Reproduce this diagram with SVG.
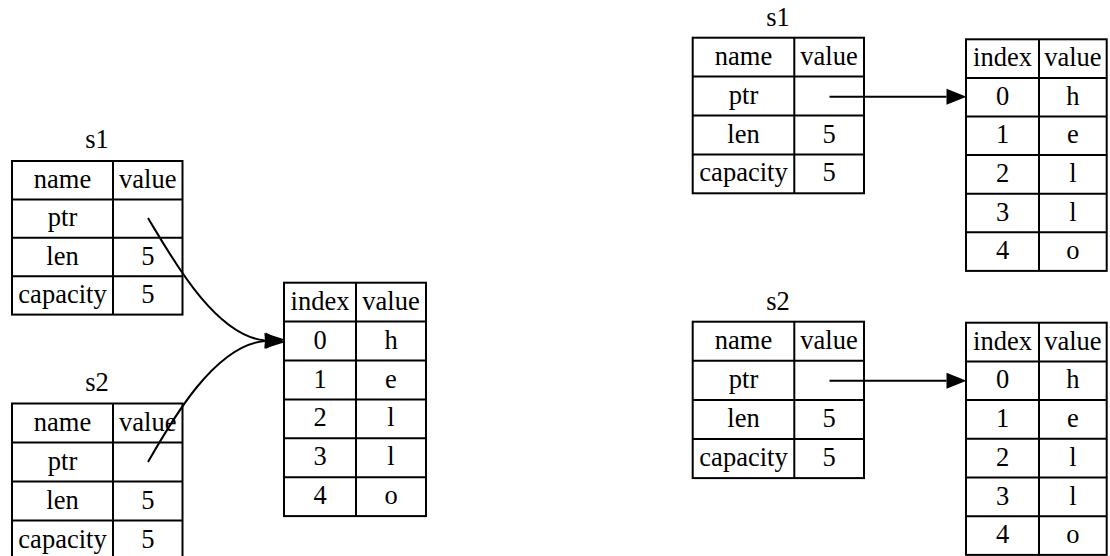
<svg xmlns="http://www.w3.org/2000/svg" width="1110" height="556" viewBox="0 0 1110 556">
  <style>
    .cell { fill: none; stroke: #000; stroke-width: 2; }
    .t { font-family: "Liberation Serif", "Times New Roman", serif; font-size: 26.5px; fill: #000; text-anchor: middle; }
    .edge { fill: none; stroke: #000; stroke-width: 2; }
  </style>
  <defs>
    <marker id="arrow" markerUnits="userSpaceOnUse" markerWidth="21" markerHeight="17" refX="0" refY="8" orient="auto" overflow="visible">
      <path d="M0,0 L20,8 L0,16 Z" fill="#000"/>
    </marker>
  </defs>
  <rect width="1110" height="556" fill="#fff"/>

  <!-- Left: s1 struct -->
  <g id="left-s1">
    <text class="t" x="97" y="148">s1</text>
    <rect class="cell" x="12" y="161" width="170.5" height="153.6"/>
    <path class="cell" d="M113,161 V314.6 M12,199.4 H182.5 M12,237.8 H182.5 M12,276.2 H182.5"/>
    <text class="t" x="62.5" y="187.7">name</text><text class="t" x="147.8" y="187.7">value</text>
    <text class="t" x="62.5" y="226.1">ptr</text>
    <text class="t" x="62.5" y="264.5">len</text><text class="t" x="147.8" y="264.5">5</text>
    <text class="t" x="62.5" y="302.9">capacity</text><text class="t" x="147.8" y="302.9">5</text>
  </g>

  <!-- Left: s2 struct -->
  <g id="left-s2">
    <text class="t" x="97" y="391">s2</text>
    <rect class="cell" x="12" y="403.5" width="170.5" height="156"/>
    <path class="cell" d="M113,403.5 V559.5 M12,442.5 H182.5 M12,481.5 H182.5 M12,520.5 H182.5"/>
    <text class="t" x="62.5" y="430.5">name</text><text class="t" x="147.8" y="430.5">value</text>
    <text class="t" x="62.5" y="469.5">ptr</text>
    <text class="t" x="62.5" y="508.5">len</text><text class="t" x="147.8" y="508.5">5</text>
    <text class="t" x="62.5" y="547.5">capacity</text><text class="t" x="147.8" y="547.5">5</text>
  </g>

  <!-- Left: shared heap buffer -->
  <g id="left-heap">
    <rect class="cell" x="284" y="282.7" width="142" height="233.4"/>
    <path class="cell" d="M356,282.7 V516.1 M284,321.6 H426 M284,360.5 H426 M284,399.4 H426 M284,438.3 H426 M284,477.2 H426"/>
    <text class="t" x="320" y="309.7">index</text><text class="t" x="391" y="309.7">value</text>
    <text class="t" x="320" y="348.6">0</text><text class="t" x="391" y="348.6">h</text>
    <text class="t" x="320" y="387.5">1</text><text class="t" x="391" y="387.5">e</text>
    <text class="t" x="320" y="426.4">2</text><text class="t" x="391" y="426.4">l</text>
    <text class="t" x="320" y="465.3">3</text><text class="t" x="391" y="465.3">l</text>
    <text class="t" x="320" y="504.2">4</text><text class="t" x="391" y="504.2">o</text>
  </g>

  <!-- Right: s1 struct -->
  <g id="right-s1">
    <text class="t" x="778" y="26">s1</text>
    <rect class="cell" x="692.7" y="37.7" width="171.3" height="155.6"/>
    <path class="cell" d="M794.3,37.7 V193.3 M692.7,76.6 H864 M692.7,115.5 H864 M692.7,154.4 H864"/>
    <text class="t" x="743.5" y="64.7">name</text><text class="t" x="829" y="64.7">value</text>
    <text class="t" x="743.5" y="103.6">ptr</text>
    <text class="t" x="743.5" y="142.5">len</text><text class="t" x="829" y="142.5">5</text>
    <text class="t" x="743.5" y="181.4">capacity</text><text class="t" x="829" y="181.4">5</text>
  </g>

  <!-- Right: s1 heap buffer -->
  <g id="right-heap1">
    <rect class="cell" x="966" y="39.3" width="140.7" height="231.6"/>
    <path class="cell" d="M1039,39.3 V270.9 M966,77.9 H1106.7 M966,116.5 H1106.7 M966,155.1 H1106.7 M966,193.7 H1106.7 M966,232.3 H1106.7"/>
    <text class="t" x="1002.5" y="66.1">index</text><text class="t" x="1072.9" y="66.1">value</text>
    <text class="t" x="1002.5" y="104.7">0</text><text class="t" x="1072.9" y="104.7">h</text>
    <text class="t" x="1002.5" y="143.3">1</text><text class="t" x="1072.9" y="143.3">e</text>
    <text class="t" x="1002.5" y="181.9">2</text><text class="t" x="1072.9" y="181.9">l</text>
    <text class="t" x="1002.5" y="220.5">3</text><text class="t" x="1072.9" y="220.5">l</text>
    <text class="t" x="1002.5" y="259.1">4</text><text class="t" x="1072.9" y="259.1">o</text>
  </g>

  <!-- Right: s2 struct -->
  <g id="right-s2">
    <text class="t" x="778" y="310">s2</text>
    <rect class="cell" x="692.7" y="321.7" width="171.3" height="156.4"/>
    <path class="cell" d="M794.3,321.7 V478.1 M692.7,360.8 H864 M692.7,399.9 H864 M692.7,439 H864"/>
    <text class="t" x="743.5" y="348.8">name</text><text class="t" x="829" y="348.8">value</text>
    <text class="t" x="743.5" y="387.9">ptr</text>
    <text class="t" x="743.5" y="427">len</text><text class="t" x="829" y="427">5</text>
    <text class="t" x="743.5" y="466.1">capacity</text><text class="t" x="829" y="466.1">5</text>
  </g>

  <!-- Right: s2 heap buffer -->
  <g id="right-heap2">
    <rect class="cell" x="966" y="322.7" width="140.7" height="232.2"/>
    <path class="cell" d="M1039,322.7 V554.9 M966,361.4 H1106.7 M966,400.1 H1106.7 M966,438.8 H1106.7 M966,477.5 H1106.7 M966,516.2 H1106.7"/>
    <text class="t" x="1002.5" y="349.7">index</text><text class="t" x="1072.9" y="349.7">value</text>
    <text class="t" x="1002.5" y="388.4">0</text><text class="t" x="1072.9" y="388.4">h</text>
    <text class="t" x="1002.5" y="427.1">1</text><text class="t" x="1072.9" y="427.1">e</text>
    <text class="t" x="1002.5" y="465.8">2</text><text class="t" x="1072.9" y="465.8">l</text>
    <text class="t" x="1002.5" y="504.5">3</text><text class="t" x="1072.9" y="504.5">l</text>
    <text class="t" x="1002.5" y="543.2">4</text><text class="t" x="1072.9" y="543.2">o</text>
  </g>

  <!-- Pointer edges -->
  <g id="connectors">
    <path class="edge" marker-end="url(#arrow)" d="M148,218 C172,258 215,336 265,340.5"/>
    <path class="edge" marker-end="url(#arrow)" d="M148,462 C172,420 215,345 265,341"/>
    <path class="edge" marker-end="url(#arrow)" d="M829.5,96.7 H946.5"/>
    <path class="edge" marker-end="url(#arrow)" d="M829.5,380.8 H946.5"/>
  </g>
</svg>
